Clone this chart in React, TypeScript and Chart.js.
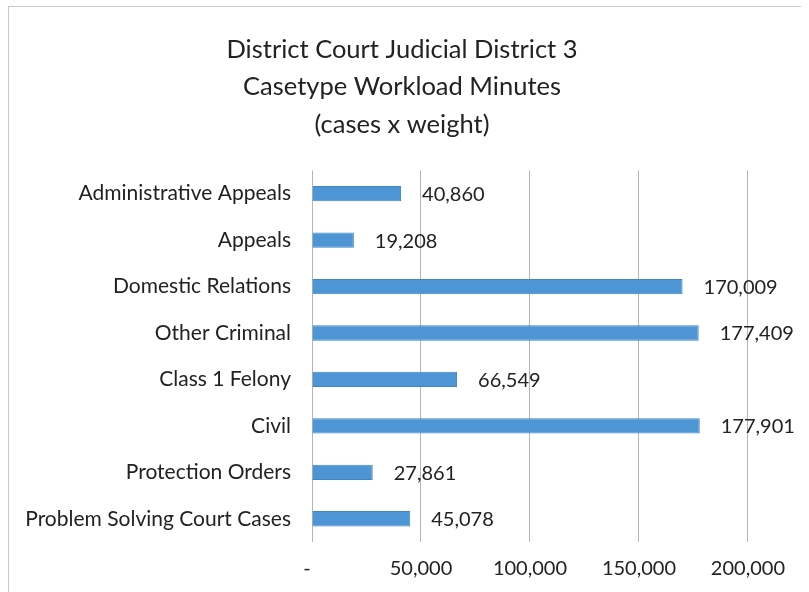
import React, { useEffect, useRef } from "react";
import { Chart, registerables } from "chart.js";

Chart.register(...registerables);

const titleLines = ["District Court Judicial District 3", "Casetype Workload Minutes", "(cases x weight)"];
const categories = [
  "Administrative Appeals",
  "Appeals",
  "Domestic Relations",
  "Other Criminal",
  "Class 1 Felony",
  "Civil",
  "Protection Orders",
  "Problem Solving Court Cases",
];
const values = [40860, 19208, 170009, 177409, 66549, 177901, 27861, 45078];
const xTicks = [0, 50000, 100000, 150000, 200000];

const FONT = "Lato, 'Open Sans', sans-serif";

const valueLabels = {
  id: "valueLabels",
  afterDatasetsDraw(chart: any) {
    const ctx = chart.ctx;
    const meta = chart.getDatasetMeta(0);
    ctx.save();
    ctx.font = `20px ${FONT}`;
    ctx.fillStyle = "#222";
    ctx.textAlign = "left";
    ctx.textBaseline = "middle";
    meta.data.forEach((bar: any, i: number) => {
      const v = chart.data.datasets[0].data[i] as number;
      ctx.fillText(v.toLocaleString("en-US"), bar.x + 21, bar.y + 1);
    });
    ctx.restore();
  },
};

export default function App() {
  const ref = useRef<HTMLCanvasElement>(null);
  useEffect(() => {
    const chart = new Chart(ref.current!, {
      type: "bar",
      data: {
        labels: categories,
        datasets: [
          {
            data: values,
            backgroundColor: "#4e95d5",
            borderColor: "#3f86c8",
            borderWidth: 1,
            barPercentage: 0.33,
            categoryPercentage: 1,
          },
        ],
      },
      options: {
        indexAxis: "y",
        animation: false,
        responsive: false,
        maintainAspectRatio: false,
        layout: { padding: { left: 40, right: 45, top: 0, bottom: 0 } },
        plugins: {
          legend: { display: false },
          tooltip: { enabled: false },
          title: {
            display: true,
            text: titleLines,
            color: "#222",
            font: { family: FONT, size: 25.5, weight: "normal", lineHeight: 1.47 },
            padding: { top: 24, bottom: 27 },
          },
        },
        scales: {
          x: {
            min: 0,
            max: 200000,
            afterBuildTicks: (scale: any) => {
              scale.ticks = xTicks.map((v) => ({ value: v }));
            },
            ticks: {
              color: "#222",
              font: { family: FONT, size: 20 },
              padding: 15,
              maxRotation: 0,
              callback: (v: any) => (Number(v) === 0 ? "-  " : Number(v).toLocaleString("en-US")),
            },
            grid: { color: "#b5b5b5", lineWidth: 1, drawTicks: false },
            border: { display: false },
          },
          y: {
            afterFit: (scale: any) => {
              scale.width = 263;
              scale._computeLabelArea = () => undefined;
            },
            ticks: {
              color: "#222",
              font: { family: FONT, size: 21 },
              padding: 21,
            },
            grid: { display: false, drawTicks: false },
            border: { display: false },
          },
        },
      },
      plugins: [valueLabels],
    });
    return () => chart.destroy();
  }, []);
  return (
    <div
      style={{
        position: "absolute",
        left: 8,
        top: 6,
        width: 792,
        height: 586,
        overflow: "hidden",
        borderLeft: "1px solid #c8c8c8",
        borderTop: "1px solid #c8c8c8",
        background: "#fff",
      }}
    >
      <canvas ref={ref} width={791} height={589} style={{ display: "block" }} />
    </div>
  );
}
